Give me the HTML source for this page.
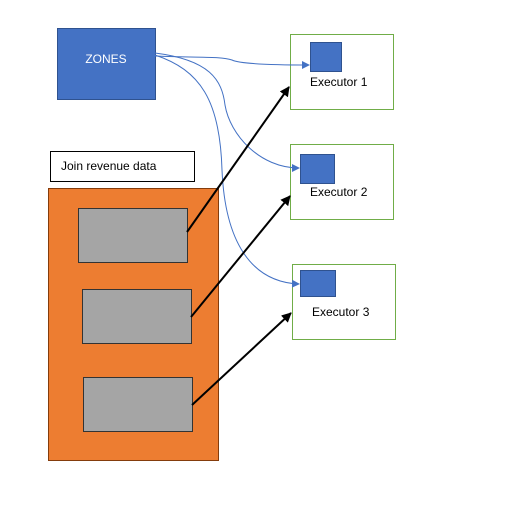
<!DOCTYPE html>
<html><head><style>
body{margin:0;background:#fff;}
</style></head><body>
<svg width="511" height="519" xmlns="http://www.w3.org/2000/svg" font-family="Liberation Sans, sans-serif">
<defs>
<marker id="bl" markerWidth="8" markerHeight="8" refX="7" refY="4" orient="auto" markerUnits="userSpaceOnUse"><path d="M0,0L8,4L0,8z" fill="#4472C4"/></marker>
<marker id="bk" markerWidth="10" markerHeight="10" refX="9" refY="5" orient="auto" markerUnits="userSpaceOnUse"><path d="M0,0L10,5L0,10z" fill="#000"/></marker>
</defs>
<rect x="57.5" y="28.5" width="98" height="71" fill="#4472C4" stroke="#2F528F"/>
<text x="106" y="63" fill="#fff" font-size="12" text-anchor="middle">ZONES</text>
<rect x="290.5" y="34.5" width="103" height="75" fill="#fff" stroke="#70AD47"/>
<rect x="310.5" y="42.5" width="31" height="29" fill="#4472C4" stroke="#2F528F"/>
<text x="310" y="86" font-size="12">Executor 1</text>
<rect x="290.5" y="144.5" width="103" height="75" fill="#fff" stroke="#70AD47"/>
<rect x="300.5" y="154.5" width="34" height="29" fill="#4472C4" stroke="#2F528F"/>
<text x="310" y="196" font-size="12">Executor 2</text>
<rect x="292.5" y="264.5" width="103" height="75" fill="#fff" stroke="#70AD47"/>
<rect x="300.5" y="270.5" width="35" height="26" fill="#4472C4" stroke="#2F528F"/>
<text x="312" y="316" font-size="12">Executor 3</text>
<rect x="50.5" y="151.5" width="144" height="30" fill="#fff" stroke="#000"/>
<text x="61" y="170" font-size="12">Join revenue data</text>
<rect x="48.5" y="188.5" width="170" height="272" fill="#ED7D31" stroke="#843C0C"/>
<rect x="78.5" y="208.5" width="109" height="54" fill="#A5A5A5" stroke="#333"/>
<rect x="82.5" y="289.5" width="109" height="54" fill="#A5A5A5" stroke="#333"/>
<rect x="83.5" y="377.5" width="109" height="54" fill="#A5A5A5" stroke="#333"/>
<g fill="none" stroke="#4472C4" stroke-width="1">
<path d="M155,56 C200,58 220,56 232,60 C240,64 270,65 309,65" marker-end="url(#bl)"/>
<path d="M155,53 C210,60 222,80 225,105 C230,135 260,168 299,168" marker-end="url(#bl)"/>
<path d="M155,55 C200,70 220,100 222,170 C225,240 250,282 299,284" marker-end="url(#bl)"/>
</g>
<g stroke="#000" stroke-width="2" fill="none">
<line x1="187" y1="232" x2="289" y2="87" marker-end="url(#bk)"/>
<line x1="191" y1="317" x2="290" y2="196" marker-end="url(#bk)"/>
<line x1="192" y1="405" x2="291" y2="313" marker-end="url(#bk)"/>
</g>
</svg>
</body></html>
